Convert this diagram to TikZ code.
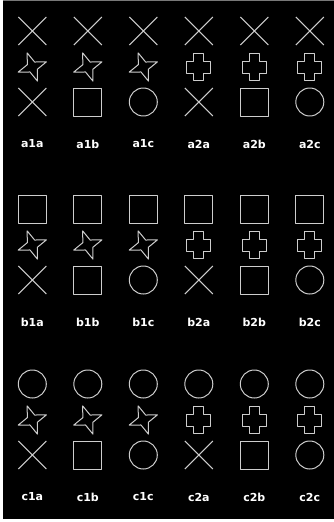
\documentclass[tikz,border=0pt]{standalone}
\usepackage{fontspec}
\setmainfont{DejaVu Sans}
\definecolor{shapegray}{RGB}{205,205,205}
\definecolor{edgegray}{RGB}{120,120,120}
\begin{document}
\begin{tikzpicture}[x=1pt,y=-1pt,
  shapeline/.style={draw=shapegray, line width=1pt, line join=round},
  lbl/.style={text=white, font=\bfseries\fontsize{11}{13}\selectfont, inner sep=0pt},
  xmark/.pic={\draw[shapeline] (-14,-14) -- (14,14) (-14,14) -- (14,-14);},
  sqmark/.pic={\draw[shapeline] (-14,-14) rectangle (14,14);},
  circmark/.pic={\draw[shapeline] (0,0) circle[radius=14pt];},
  starmark/.pic={\draw[shapeline] (-110:15) -- (-65:5.5) -- (-20:15) -- (25:5.5) -- (70:15) -- (115:5.5) -- (160:15) -- (-155:5.5) -- cycle;},
  plusmark/.pic={\draw[shapeline] (-5,-13.5) -- (5,-13.5) -- (5,-6) -- (12,-6) -- (12,6) -- (5,6) -- (5,13.5) -- (-5,13.5) -- (-5,6) -- (-12,6) -- (-12,-6) -- (-5,-6) -- cycle;}
]
\useasboundingbox (0,0) rectangle (334,522);
\fill[white] (0,0) rectangle (334,522);
\fill[black] (3,0) rectangle (334,519);
\fill[edgegray] (3,0) rectangle (334,1);
\foreach \g/\y/\top in {a/31/xmark, b/209/sqmark, c/384/circmark} {
  \foreach \s/\x/\mid/\bot in {1a/32.3/starmark/xmark, 1b/87.8/starmark/sqmark, 1c/143.3/starmark/circmark, 2a/198.8/plusmark/xmark, 2b/254.3/plusmark/sqmark, 2c/309.8/plusmark/circmark} {
    \pic (top-\g\s) at (\x,\y) {\top};
    \pic (mid-\g\s) at (\x,{\y+36}) {\mid};
    \pic (bot-\g\s) at (\x,{\y+71}) {\bot};
    \node[lbl] (lbl-\g\s) at (\x,{\y+113}) {\g\s};
  }
}
\end{tikzpicture}
\end{document}
